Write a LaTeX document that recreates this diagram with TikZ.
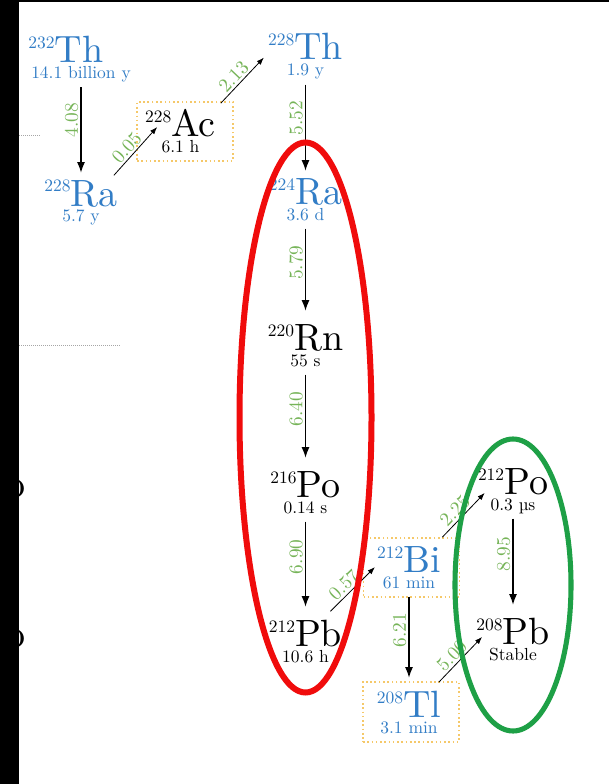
\documentclass[tikz,border=0pt]{standalone}
\usepackage{fontspec}
\usepackage{graphicx}
\usetikzlibrary{arrows.meta,calc}
\definecolor{nblue}{RGB}{50,125,198}
\definecolor{egreen}{RGB}{118,180,88}
\definecolor{ered}{RGB}{240,12,12}
\definecolor{ogreen}{RGB}{30,160,70}
\definecolor{bdot}{RGB}{245,200,105}
\newcommand\bigtext[1]{\scalebox{2.85}{\fontsize{10}{12}\selectfont #1}}
\newcommand\smtext[1]{\scalebox{1.31}{\fontsize{10}{12}\selectfont #1}}
\newcommand\labtext[1]{\scalebox{1.45}{\fontsize{10}{12}\selectfont #1}}
\newcommand\nucl[3]{\vbox{\baselineskip=12pt\lineskiplimit=-100pt\lineskip=0pt
 \halign{\hfil##\hfil\cr
 \raisebox{10.5pt}{\smtext{#1}}\bigtext{#2\vphantom{h}}\cr
 \smtext{\vphantom{y}#3}\cr}}}
\tikzset{
  nuc/.style={inner sep=0pt, anchor=base},
  bnuc/.style={nuc, text=nblue},
  dbox/.style={draw=bdot, dotted, line width=1.2pt, minimum width=72pt, minimum height=44.25pt, inner sep=0pt},
  varr/.style={-{Latex[length=8pt,width=6pt]}, line width=0.9pt, shorten <=3.5pt, shorten >=9.5pt},
  darr/.style={-{Latex[length=5.5pt,width=4pt]}, line width=0.6pt},
  vlab/.style={pos=0.39, rotate=90, anchor=south, inner sep=1.5pt, text=egreen},
  dlab/.style={pos=0.45, sloped, above, inner sep=1.5pt, text=egreen},
  gdot/.style={draw=gray!70, densely dotted, line width=0.5pt}
}
\begin{document}
\begin{tikzpicture}[x=0.75pt, y=-0.75pt]
\useasboundingbox (0,0) rectangle (609,784);
\fill[white] (0,0) rectangle (609,784);
% clipped glyphs at left edge
\node[nuc] (o1) at (15,497) {\scalebox{3}{o}};
\node[nuc] (o2) at (15,647) {\scalebox{3}{o}};
% faint dotted lines
\coordinate (g1a) at (19,135); \coordinate (g1b) at (40,135);
\coordinate (g2a) at (19,345); \coordinate (g2b) at (120,345);
\draw[gdot] (g1a) -- (g1b);
\draw[gdot] (g2a) -- (g2b);
% boxes
\node[dbox] (acbox) at (185,131.5) {};
\node[dbox] (bibox) at (411.5,567.5) {};
\node[dbox, minimum height=45pt] (tlbox) at (411,712) {};
% nuclides
\node[bnuc] (th232) at (81,78.5) {\nucl{232}{Th\kern8pt}{14.1 billion y}};
\node[bnuc] (ra228) at (81,222) {\nucl{228}{Ra}{5.7 y}};
\node[nuc] (ac) at (180.5,153) {\nucl{228}{Ac}{6.1 h}};
\node[bnuc] (th228) at (305.5,76) {\nucl{228}{Th}{1.9 y}};
\node[bnuc] (ra224) at (305.5,220) {\nucl{224}{Ra}{3.6 d}};
\node[nuc] (rn) at (305.5,366) {\nucl{220}{Rn}{55 s}};
\node[nuc] (po216) at (305.5,513) {\nucl{216}{Po}{0.14 s}};
\node[nuc] (pb212) at (305.5,662) {\nucl{212}{Pb}{10.6 h}};
\node[bnuc] (bi) at (409,588) {\nucl{212}{Bi}{61 min}};
\node[bnuc] (tl) at (409,733) {\nucl{208}{Tl}{3.1 min}};
\node[nuc] (po212) at (513,510) {\nucl{212}{Po}{0.3 \textmu s}};
\node[nuc] (pb208) at (513,660) {\nucl{208}{Pb}{Stable}};
% decays
\draw[varr, shorten >=5pt] (th232.south) -- (ra228.north) node[vlab]{\labtext{4.08}};
\draw[varr, shorten >=5pt] (th228.south) -- (ra224.north) node[vlab]{\labtext{5.52}};
\draw[varr] (ra224.south) -- (rn.north) node[vlab]{\labtext{5.79}};
\draw[varr] (rn.south) -- (po216.north) node[vlab]{\labtext{6.40}};
\draw[varr] (po216.south) -- (pb212.north) node[vlab]{\labtext{6.90}};
\draw[varr] (bi.south) -- (tl.north) node[vlab]{\labtext{6.21}};
\draw[varr] (po212.south) -- (pb208.north) node[vlab]{\labtext{8.95}};
\draw[darr] ($(ra228.north east)+(-4,-4)$) -- ($(acbox.west)+(21,-4.5)$) node[dlab]{\labtext{0.05}};
\draw[darr] ($(acbox.north east)+(-13,2)$) -- ($(th228.west)+(-4,1)$) node[dlab]{\labtext{2.13}};
\draw[darr] ($(pb212.north east)+(-12,-8)$) -- ($(bi.west)+(-2,-1.5)$) node[dlab]{\labtext{0.57}};
\draw[darr] ($(bibox.north east)+(-18,0)$) -- ($(po212.west)+(7,2.3)$) node[dlab]{\labtext{2.25}};
\draw[darr] ($(tlbox.north east)+(-21,1)$) -- ($(pb208.west)+(6,-3.7)$) node[dlab]{\labtext{5.00}};
% groupings
\draw[ered, line width=4.5pt] (305.5,417.5) ellipse [x radius=66, y radius=275];
\draw[ogreen, line width=3.8pt] (513,585) ellipse [x radius=58, y radius=146];
% frame edges
\fill[black] (0,0) rectangle (19,784);
\fill[black] (0,0) rectangle (609,2.5);
\end{tikzpicture}
\end{document}
